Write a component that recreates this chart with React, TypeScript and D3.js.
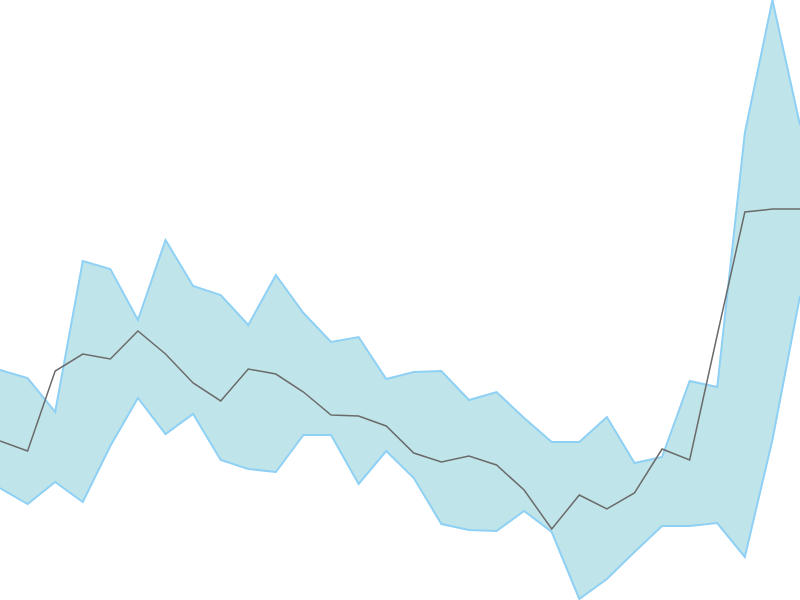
import React from "react";
import * as d3 from "d3";

const W = 800;
const H = 600;

// Index positions 0..29
const upper = [230, 222, 188, 339, 331, 280, 360, 314, 305, 275, 325, 287, 258, 263, 221, 228, 229, 200, 208, 182, 158, 158, 183, 137, 143, 219, 213, 467, 600, 475];
const lower = [112, 96, 118, 98, 154, 202, 166, 186, 140, 131, 128, 165, 165, 116, 149, 122, 76, 70, 69, 89, 68, 1, 21, 48, 74, 74, 77, 43, 160, 304];
const mid = [159, 149, 229, 246, 241, 269, 246, 217, 199, 231, 226, 208, 185, 184, 174, 147, 138, 144, 135, 110, 71, 105, 91, 107, 151, 140, 265, 388, 391, 391];

export default function App() {
  const x = d3.scaleLinear().domain([0, mid.length - 1]).range([0, W]);
  const y = d3.scaleLinear().domain([0, 600]).range([H, 0]);
  const idx = d3.range(mid.length);

  const area = d3
    .area<number>()
    .x((i) => x(i))
    .y0((i) => y(lower[i]))
    .y1((i) => y(upper[i]));
  const upperLine = d3.line<number>().x((i) => x(i)).y((i) => y(upper[i]));
  const lowerLine = d3.line<number>().x((i) => x(i)).y((i) => y(lower[i]));
  const midLine = d3.line<number>().x((i) => x(i)).y((i) => y(mid[i]));

  return (
    <svg
      width={W}
      height={H}
      style={{ position: "absolute", left: 0, top: 0, background: "#fff" }}
    >
      <path d={area(idx) ?? ""} fill="#bfe4e9" stroke="none" />
      <path d={upperLine(idx) ?? ""} fill="none" stroke="#8fd0f5" strokeWidth={2} />
      <path d={lowerLine(idx) ?? ""} fill="none" stroke="#8fd0f5" strokeWidth={2} />
      <path d={midLine(idx) ?? ""} fill="none" stroke="#6b6b6b" strokeWidth={1.5} />
    </svg>
  );
}
